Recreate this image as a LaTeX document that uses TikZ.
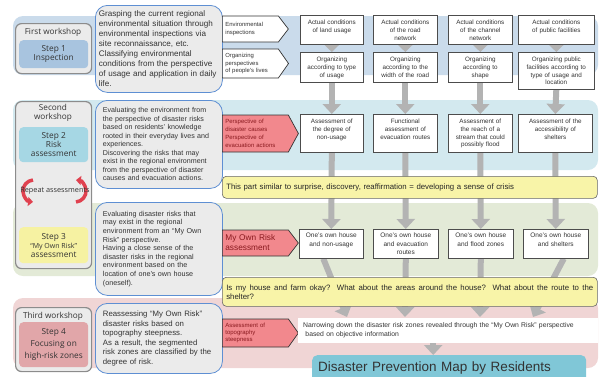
\documentclass[tikz,border=0pt]{standalone}
\usepackage{fontspec}
\setmainfont{Liberation Sans}
\newfontfamily\labfont{Open Sans}
\usetikzlibrary{arrows.meta, shapes.symbols}

\definecolor{bandA}{HTML}{CADBEB}
\definecolor{bandB}{HTML}{D3E9EF}
\definecolor{bandC}{HTML}{E3EAD7}
\definecolor{bandD}{HTML}{F0D5D5}
\definecolor{bubfill}{HTML}{EBEBEB}
\definecolor{bubline}{HTML}{5E8FD3}
\definecolor{stepA}{HTML}{A8C4DF}
\definecolor{stepB}{HTML}{A6D7E4}
\definecolor{stepC}{HTML}{F6F2A2}
\definecolor{stepD}{HTML}{E1A6A9}
\definecolor{redbox}{HTML}{F2888D}
\definecolor{redtext}{HTML}{8A1A1F}
\definecolor{repred}{HTML}{E0414F}
\definecolor{barfill}{HTML}{F8F4A8}
\definecolor{arrgray}{HTML}{B3B3B3}
\definecolor{mapfill}{HTML}{80C7D7}
\definecolor{txt}{HTML}{333333}

\pgfdeclarelayer{back}
\pgfdeclarelayer{mid}
\pgfsetlayers{back,mid,main}

\tikzset{
  wsbox/.style={draw=black!45, line width=1.2pt, fill=bubfill, rounded corners=6pt,
    minimum width=76pt, anchor=north west, inner sep=0pt},
  wslabel/.style={font=\labfont\fontsize{8.2}{8.5}\selectfont, text=txt, align=center, inner sep=0pt},
  stepbox/.style={rounded corners=4pt, minimum width=69pt, anchor=north west, inner sep=0pt,
    font=\labfont\fontsize{8.3}{9}\selectfont, text=txt, align=center},
  bubble/.style={draw=bubline, line width=0.8pt, fill=bubfill, rounded corners=12pt,
    anchor=north west, align=left, text=txt, inner xsep=7.5pt, text width=112pt},
  sign/.style={signal, signal to=east, draw=black!80, line width=0.7pt, anchor=west,
    align=left, inner xsep=3pt, minimum width=66pt, text width=50pt},
  envsign/.style={sign, fill=white, text=txt, font=\fontsize{5.9}{7.5}\selectfont},
  redsign/.style={sign, fill=redbox, text=redtext},
  cell/.style={draw=black!70, line width=0.6pt, fill=white, anchor=north west, inner sep=1.5pt,
    align=center, text=txt, text height=8pt, font=\fontsize{6.3}{7.6}\selectfont},
  bar/.style={draw=black!60, line width=0.6pt, fill=barfill, rounded corners=4pt, anchor=north west,
    inner xsep=4pt, text width=367pt, text=black!85, font=\fontsize{7.8}{9}\selectfont},
  garrow/.style={draw=arrgray, line width=6pt, -{Triangle[width=18pt,length=10pt]}},
  gsmall/.style={draw=arrgray, line width=5pt, -{Triangle[width=14pt,length=7pt]}},
  reparrow/.style={draw=repred, line width=3.5pt, -{Triangle[width=9pt,length=5pt]}}
}

\begin{document}
\begin{tikzpicture}[x=1pt, y=-1pt]
\useasboundingbox (0,0) rectangle (599,376);

% bands
\begin{pgfonlayer}{back}
  \fill[bandA, rounded corners=10pt] (13,16) rectangle (598,75);
  \fill[bandB, rounded corners=10pt] (13,100) rectangle (598,170);
  \fill[bandC, rounded corners=10pt] (13,203) rectangle (598,276);
  \fill[bandD, rounded corners=10pt] (13,298) rectangle (598,368);
\end{pgfonlayer}

% workshops
\node[wsbox, minimum height=50pt] (ws1) at (15,23) {};
\node[wslabel] (ws1t) at (53,32) {First workshop};
\node[stepbox, fill=stepA, minimum height=28pt] (st1) at (19,40) {Step 1\\Inspection};

\node[wsbox, minimum height=167pt] (ws2) at (15,101) {};
\node[wslabel] (ws2t) at (53,113) {Second\\workshop};
\node[stepbox, fill=stepB, minimum height=35pt] (st2) at (19,127) {Step 2\\Risk\\assessment};
\coordinate (repc) at (55,191);
\draw[reparrow] ([xshift=-22pt,yshift=11pt]repc) arc[start angle=95, end angle=265, radius=11pt];
\draw[reparrow] ([xshift=21pt,yshift=-11pt]repc) arc[start angle=-85, end angle=85, radius=11pt];
\node[wslabel, font=\labfont\fontsize{7.3}{8}\selectfont] (rep) at (repc) {Repeat assessments};
\node[stepbox, fill=stepC, minimum height=36pt] (st3) at (19,227)
  {Step 3\\{\fontsize{7}{8}\selectfont “My Own Risk”}\\assessment};

\node[wsbox, minimum height=64pt] (ws3) at (15,307) {};
\node[wslabel] (ws3t) at (53,316) {Third workshop};
\node[stepbox, fill=stepD, minimum height=45pt, font=\labfont\fontsize{8.3}{12}\selectfont] (st4) at (19,322)
  {Step 4\\Focusing on\\high-risk zones};

% descriptions
\node[bubble, minimum height=87pt, text width=120pt, inner xsep=3.5pt, font=\fontsize{8.1}{10}\selectfont] (b1) at (95,5)
  {Grasping the current regional\\environmental situation through\\environmental inspections via\\site reconnaissance, etc.\\Classifying environmental\\conditions from the perspective\\of usage and application in daily\\life.};
\node[bubble, minimum height=88pt, font=\fontsize{7.1}{8.5}\selectfont] (b2) at (95,100)
  {Evaluating the environment from\\the perspective of disaster risks\\based on residents' knowledge\\rooted in their everyday lives and\\experiences.\\Discovering the risks that may\\exist in the regional environment\\from the perspective of disaster\\causes and evacuation actions.};
\node[bubble, minimum height=93pt, font=\fontsize{7.2}{8.6}\selectfont] (b3) at (95,202)
  {Evaluating disaster risks that\\may exist in the regional\\environment from an “My Own\\Risk” perspective.\\Having a close sense of the\\disaster risks in the regional\\environment based on the\\location of one's own house\\(oneself).};
\node[bubble, minimum height=70pt, font=\fontsize{7.8}{9.6}\selectfont] (b4) at (95,303)
  {Reassessing “My Own Risk”\\disaster risks based on\\topography steepness.\\As a result, the segmented\\risk zones are classified by the\\degree of risk.};

% perspectives
\node[envsign, minimum height=26pt, signal pointer angle=105] (env1) at (222,29) {Environmental\\inspections};
\node[envsign, minimum height=29pt, signal pointer angle=110] (env2) at (222,63.5) {Organizing\\perspectives\\of people's lives};
\node[redsign, minimum height=37pt, minimum width=76pt, text width=60pt, signal pointer angle=123,
  font=\fontsize{6}{8}\selectfont] (red2) at (222,133.5) {Perspective of\\disaster causes\\Perspective of\\evacuation actions};
\node[redsign, minimum height=26pt, minimum width=76pt, text width=60pt, signal pointer angle=105,
  font=\fontsize{8.3}{10}\selectfont] (red3) at (222,243) {My Own Risk\\assessment};
\node[redsign, minimum height=28pt, minimum width=76pt, text width=60pt, signal pointer angle=109,
  font=\fontsize{6}{7}\selectfont] (red4) at (222,333) {Assessment of\\topography\\steepness};

% step 1 cells
\node[cell, text width=60pt, text depth=18pt] (act1) at (300,15) {Actual conditions\\of land usage};
\node[cell, text width=61pt, text depth=18pt] (act2) at (373,15) {Actual conditions\\of the road\\network};
\node[cell, text width=61pt, text depth=18pt] (act3) at (448,15) {Actual conditions\\of the channel\\network};
\node[cell, text width=73pt, text depth=18pt] (act4) at (518,15) {Actual conditions\\of public facilities};

\node[cell, text width=60pt, text depth=19pt] (org1) at (300,52) {Organizing\\according to type\\of usage};
\node[cell, text width=61pt, text depth=19pt] (org2) at (373,52) {Organizing\\according to the\\width of the road};
\node[cell, text width=61pt, text depth=19pt] (org3) at (448,52) {Organizing\\according to\\shape};
\node[cell, text width=73pt, text depth=26pt] (org4) at (518,52) {Organizing public\\facilities according to\\type of usage and\\location};

% step 2 cells
\node[cell, text width=60pt, text depth=27pt] (asm1) at (300,114) {Assessment of\\the degree of\\non-usage};
\node[cell, text width=61pt, text depth=27pt] (asm2) at (373,114) {Functional\\assessment of\\evacuation routes};
\node[cell, text width=61pt, text depth=27pt] (asm3) at (448,114) {Assessment of\\the reach of a\\stream that could\\possibly flood};
\node[cell, text width=71pt, text depth=27pt] (asm4) at (518,114) {Assessment of the\\accessibility of\\shelters};

\node[bar, minimum height=22pt] (bar1) at (222,176)
  {This part similar to surprise, discovery, reaffirmation = developing a sense of crisis};

% step 3 cells
\node[cell, text width=61pt, text depth=19pt, text height=7pt, font=\fontsize{6.5}{8.2}\selectfont] (own1) at (299,229) {One's own house\\and non-usage};
\node[cell, text width=62pt, text depth=19pt, text height=7pt, font=\fontsize{6.5}{8.2}\selectfont] (own2) at (373,229) {One's own house\\and evacuation\\routes};
\node[cell, text width=62pt, text depth=19pt, text height=7pt, font=\fontsize{6.5}{8.2}\selectfont] (own3) at (448,229) {One's own house\\and flood zones};
\node[cell, text width=62pt, text depth=19pt, text height=7pt, font=\fontsize{6.5}{8.2}\selectfont] (own4) at (523,229) {One's own house\\and shelters};

\node[bar, minimum height=29pt, align=justify] (bar2) at (222,277)
  {Is my house and farm okay? What about the areas around the house? What about the route to the\linebreak shelter?};

% step 4
\node[fill=white, anchor=north west, minimum width=299pt, minimum height=25pt, text width=290pt,
  inner xsep=5pt, align=left, text=txt, font=\fontsize{6.8}{9}\selectfont] (nar) at (298,318)
  {Narrowing down the disaster risk zones revealed through the “My Own Risk” perspective\\\ based on objective information};
\coordinate (t1) at (347,317);
\coordinate (t2) at (405,317);
\coordinate (t3) at (480,317);
\coordinate (t4) at (533,317);

\node[fill=mapfill, rounded corners=5pt, anchor=north west, minimum width=274pt, text width=262pt,
  inner xsep=6pt, inner ysep=3pt, text height=13.5pt, text depth=10pt, align=left, text=black!80,
  font=\fontsize{13.5}{15}\selectfont] (map) at (312,355) {Disaster Prevention Map by Residents};

% arrows
\begin{pgfonlayer}{mid}
  \foreach \c in {1,...,4} {
    \draw[gsmall] (act\c.south) -- (org\c.north);
    \draw[garrow] (org\c.south) -- (asm\c.north);
    \draw[garrow] (asm\c.south) -- (own\c.north);
  }
  \draw[garrow] ([xshift=-8pt]own1.south) -- (t1);
  \draw[garrow] (own2.south) -- (t2);
  \draw[garrow] (own3.south) -- (t3);
  \draw[garrow] ([xshift=8pt]own4.south) -- (t4);
  \draw[garrow] ([xshift=-15pt]nar.south) -- ([xshift=-16pt]map.north);
\end{pgfonlayer}

\end{tikzpicture}
\end{document}
